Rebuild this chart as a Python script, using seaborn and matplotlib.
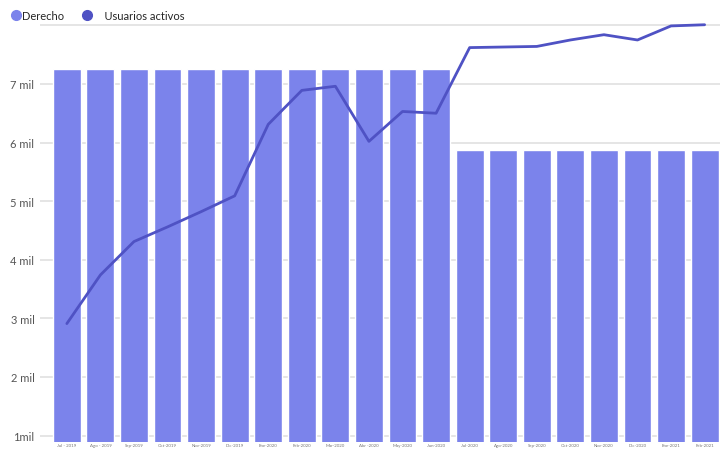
import numpy as np
import pandas as pd
import seaborn as sns
import matplotlib.pyplot as plt
from matplotlib.lines import Line2D

# datos (en miles)
months = ["Jul - 2019", "Ago - 2019", "Sep-2019", "Oct-2019", "Nov-2019", "Dic-2019",
          "Ene-2020", "Feb-2020", "Mar-2020", "Abr -2020", "May-2020", "Jun-2020",
          "Jul-2020", "Ago-2020", "Sep-2020", "Oct-2020", "Nov-2020", "Dic-2020",
          "Ene-2021", "Feb-2021"]
derecho = [7.26] * 12 + [5.88] * 8
usuarios = [2.91, 3.74, 4.31, 4.56, 4.82, 5.09, 6.31, 6.89, 6.96, 6.02, 6.53, 6.50,
            7.62, 7.63, 7.64, 7.75, 7.84, 7.75, 7.99, 8.01]
yticks = [1, 2, 3, 4, 5, 6, 7, 8]
ylabels = ["1mil", "2 mil", "3 mil", "4 mil", "5 mil", "6 mil", "7 mil", ""]

sns.set_style("white")
plt.rcParams['font.family'] = ['Lato', 'DejaVu Sans']

bar_color = "#7B83EB"
line_color = "#4F52C4"

df = pd.DataFrame({"mes": months, "derecho": derecho, "usuarios": usuarios})

fig = plt.figure(figsize=(7.27, 4.52), dpi=100)
ax = fig.add_axes([0.055, 0.020, 0.935, 0.936])

sns.barplot(data=df, x="mes", y="derecho", color=bar_color, width=0.83,
            saturation=1, ax=ax, zorder=2)
sns.lineplot(x=np.arange(len(months)), y=df["usuarios"], color=line_color,
             linewidth=2.0, sort=False, ax=ax, zorder=3)

ax.set_ylim(0.89, 8.11)
ax.set_xlim(-0.8, 19.45)
ax.set_yticks(yticks)
ax.set_yticklabels(ylabels)
ax.grid(axis="y", color="#E3E3E3", linewidth=1.3, zorder=0)
ax.set_axisbelow(True)
ax.tick_params(axis="y", length=0, pad=4, labelsize=8, labelcolor="#555555")
ax.tick_params(axis="x", length=0, pad=1, labelsize=3.2, labelcolor="#777777")
ax.set_xlabel("")
ax.set_ylabel("")
for s in ax.spines.values():
    s.set_visible(False)

handles = [
    Line2D([], [], marker="o", linestyle="", markersize=7, color=bar_color),
    Line2D([], [], marker="o", linestyle="", markersize=7, color=line_color),
]
fig.legend(handles, ["Derecho", "    Usuarios activos"], loc="upper left",
           bbox_to_anchor=(0.0, 0.998), ncol=2, frameon=False, fontsize=8,
           handletextpad=0.05, columnspacing=1.6, handlelength=1.0)

fig.savefig("out.png", dpi=100)
